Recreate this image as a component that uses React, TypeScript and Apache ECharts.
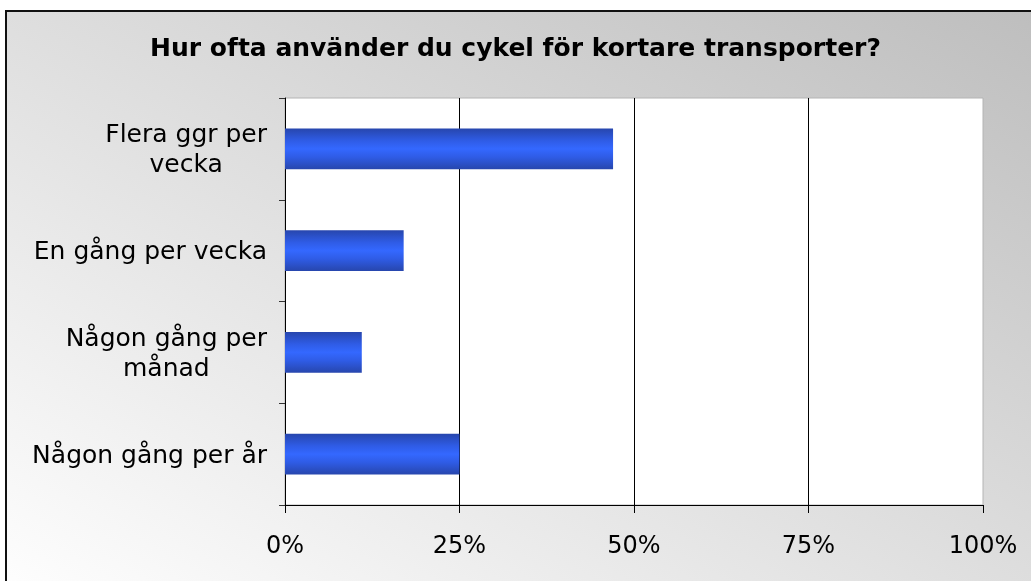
import React, { useEffect, useRef } from "react";
import * as echarts from "echarts";

const titleText = "Hur ofta använder du cykel för kortare transporter?";
const categories = [
  "Flera ggr per\nvecka",
  "En gång per vecka",
  "Någon gång per\nmånad",
  "Någon gång per år",
];
const values = [47, 17, 11, 25];
const xTicks = { min: 0, max: 100, interval: 25 };

const FONT = "DejaVu Sans";

export default function App() {
  const ref = useRef<HTMLDivElement>(null);
  useEffect(() => {
    if (!ref.current) return;
    const chart = echarts.init(ref.current, undefined, { renderer: "svg" });
    const barGradient = new echarts.graphic.LinearGradient(0, 0, 0, 1, [
      { offset: 0, color: "#2746ad" },
      { offset: 0.3, color: "#2f5ce6" },
      { offset: 0.5, color: "#3468ff" },
      { offset: 0.7, color: "#2f5ce6" },
      { offset: 1, color: "#2746ad" },
    ]);
    chart.setOption({
      animation: false,
      graphic: [
        {
          type: "rect",
          z: -10,
          silent: true,
          shape: { x: 6, y: 11, width: 1060, height: 600 },
          style: {
            fill: new echarts.graphic.LinearGradient(0, 1, 1, 0, [
              { offset: 0, color: "#ffffff" },
              { offset: 1, color: "#bdbdbd" },
            ]),
            stroke: "#111",
            lineWidth: 2,
          },
        },
      ],
      title: {
        text: titleText,
        left: "center",
        top: 30,
        textStyle: {
          fontFamily: FONT,
          fontWeight: "bold",
          fontSize: 25,
          color: "#000",
        },
      },
      grid: {
        left: 285,
        right: 48,
        top: 98,
        bottom: 76,
        show: true,
        backgroundColor: "#ffffff",
        borderColor: "#b4b4b4",
        borderWidth: 1,
      },
      xAxis: {
        type: "value",
        min: xTicks.min,
        max: xTicks.max,
        interval: xTicks.interval,
        axisLine: { show: true, lineStyle: { color: "#000", width: 1 } },
        axisTick: { show: true, length: 8, lineStyle: { color: "#000" } },
        splitLine: {
          show: true,
          showMinLine: false,
          showMaxLine: false,
          lineStyle: { color: "#000", width: 1 },
        },
        axisLabel: {
          formatter: (v: number) => `${v}%`,
          fontFamily: FONT,
          fontSize: 24,
          color: "#000",
          margin: 28,
        },
      },
      yAxis: {
        type: "category",
        inverse: true,
        data: categories,
        axisLine: { show: true, lineStyle: { color: "#000", width: 1 } },
        axisTick: { show: true, length: 6, lineStyle: { color: "#333" } },
        axisLabel: {
          fontFamily: FONT,
          fontSize: 25,
          color: "#000",
          margin: 18,
          lineHeight: 30,
          align: "right",
          formatter: (v: string) =>
            v
              .split("\n")
              .map((s) => `{c|${s}}`)
              .join("\n"),
          rich: {
            c: {
              align: "center",
              fontFamily: FONT,
              fontSize: 25,
              color: "#000",
              lineHeight: 30,
            },
          },
        },
      },
      series: [
        {
          type: "bar",
          data: values,
          barWidth: "40%",
          itemStyle: { color: barGradient },
        },
      ],
    });
    return () => chart.dispose();
  }, []);
  return (
    <div
      ref={ref}
      style={{ position: "fixed", left: 0, top: 0, width: 1031, height: 581 }}
    />
  );
}
